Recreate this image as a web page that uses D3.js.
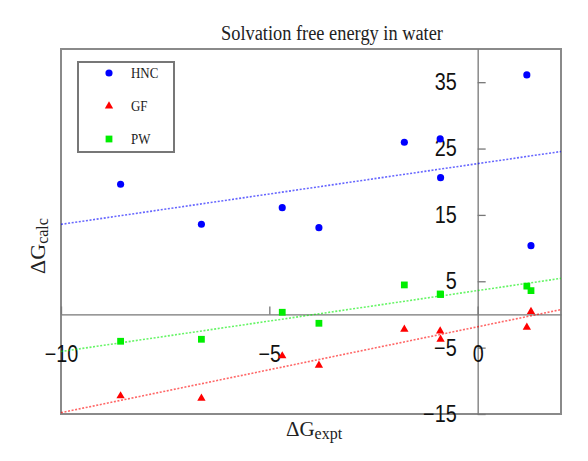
<!DOCTYPE html>
<html>
<head>
<meta charset="utf-8">
<script src="https://cdn.jsdelivr.net/npm/d3@7"></script>
<style>
  html, body { margin: 0; padding: 0; background: #fff; }
  svg { display: block; }
</style>
</head>
<body>
<div id="chart"></div>
<script>
const expt = [-8.57, -6.63, -4.69, -3.81, -1.76, -0.90, -0.89, 1.18, 1.28]
const hnc = [19.62, 13.59, 16.09, 13.08, 25.95, 26.45, 20.61, 36.1, 10.37]
const gf = [-12.28, -12.63, -6.25, -7.66, -2.23, -2.49, -3.74, -1.93, 0.42]
const pw = [-4.04, -3.74, 0.33, -1.33, 4.45, 3.09, 3.0, 4.27, 3.59]

const seriesNames = ['HNC', 'GF', 'PW']
const seriesValues = [hnc, gf, pw]
const seriesColors = ['#0000ff', '#ff0000', '#00ee00']
const seriesShapes = [d3.symbolCircle, d3.symbolTriangle, d3.symbolSquare]
const seriesSizes = [40, 30, 46]

const xTicks = [-10, -5, 0]
const yTicks = [35, 25, 15, 5, -5, -15]

const width = 588, height = 461
const box = { left: 61, right: 561, top: 49, bottom: 414 }

const svg = d3.select('#chart').append('svg')
  .attr('width', width).attr('height', height)

const x = d3.scaleLinear().domain([-10, 2]).range([box.left, box.right])
const y = d3.scaleLinear().domain([-15, 40]).range([box.bottom, box.top])

// squeeze text horizontally, the reference looks a bit narrow
function squeeze(sel, k) {
  sel.each(function () {
    const len = this.getComputedTextLength()
    d3.select(this).attr('textLength', len * k).attr('lengthAdjust', 'spacingAndGlyphs')
  })
}

// least squares fit
function fit(xs, ys) {
  const mx = d3.mean(xs), my = d3.mean(ys)
  const sxy = d3.sum(xs, (v, i) => (v - mx) * (ys[i] - my))
  const sxx = d3.sum(xs, v => (v - mx) * (v - mx))
  const b = sxy / sxx
  return { a: my - b * mx, b }
}

// plot frame
svg.append('rect')
  .attr('x', box.left).attr('y', box.top)
  .attr('width', box.right - box.left).attr('height', box.bottom - box.top)
  .attr('fill', 'none').attr('stroke', '#8a8a8a').attr('stroke-width', 2)

// axes through the origin
const yAxis = d3.axisLeft(y).tickValues(yTicks).tickFormat(d3.format('d'))
  .tickSizeInner(-8).tickSizeOuter(0).tickPadding(21)
const xAxis = d3.axisBottom(x).tickValues(xTicks).tickFormat(d3.format('d'))
  .tickSizeInner(-8).tickSizeOuter(0).tickPadding(31)

const gy = svg.append('g').attr('transform', `translate(${x(0)},0)`).call(yAxis)
const gx = svg.append('g').attr('transform', `translate(0,${y(0)})`).call(xAxis)

;[gx, gy].forEach(g => {
  g.select('.domain').attr('stroke', '#777').attr('stroke-width', 1.3)
  g.selectAll('.tick line').attr('stroke', '#777').attr('stroke-width', 1.3)
  g.selectAll('.tick text')
    .attr('fill', '#111')
    .style('font-family', '"Liberation Sans", Arial, sans-serif')
    .style('font-size', '23px')
  squeeze(g.selectAll('.tick text'), 0.86)
})

// regression lines
seriesValues.forEach((vals, i) => {
  const f = fit(expt, vals)
  const xs = x.domain()
  svg.append('line')
    .attr('x1', x(xs[0])).attr('y1', y(f.a + f.b * xs[0]))
    .attr('x2', x(xs[1])).attr('y2', y(f.a + f.b * xs[1]))
    .attr('stroke', seriesColors[i]).attr('stroke-opacity', 0.6)
    .attr('stroke-width', 1.6).attr('stroke-dasharray', '2,1.6')
})

// points
seriesValues.forEach((vals, i) => {
  const sym = d3.symbol().type(seriesShapes[i]).size(seriesSizes[i])
  svg.append('g').selectAll('path')
    .data(vals)
    .join('path')
    .attr('transform', (d, j) => `translate(${x(expt[j])},${y(d)})`)
    .attr('d', sym)
    .attr('fill', seriesColors[i])
})

// legend
const legend = svg.append('g')
legend.append('rect')
  .attr('x', 78).attr('y', 62).attr('width', 96).attr('height', 90)
  .attr('fill', '#fff').attr('stroke', '#777').attr('stroke-width', 2)
seriesNames.forEach((name, i) => {
  const ly = 73 + i * 33
  legend.append('path')
    .attr('transform', `translate(109,${ly})`)
    .attr('d', d3.symbol().type(seriesShapes[i]).size(seriesSizes[i]))
    .attr('fill', seriesColors[i])
  legend.append('text')
    .attr('x', 131).attr('y', ly)
    .attr('dominant-baseline', 'central')
    .style('font-family', '"Liberation Serif", "Times New Roman", serif')
    .style('font-size', '15px').attr('fill', '#222')
    .text(name)
})
squeeze(legend.selectAll('text'), 0.86)

// title
svg.append('text')
  .attr('x', 332).attr('y', 40)
  .attr('text-anchor', 'middle')
  .style('font-family', '"Liberation Serif", "Times New Roman", serif')
  .style('font-size', '20px').attr('fill', '#222')
  .attr('textLength', 222).attr('lengthAdjust', 'spacingAndGlyphs')
  .text('Solvation free energy in water')

// axis titles
const xt = svg.append('text')
  .attr('x', 314).attr('y', 436)
  .attr('text-anchor', 'middle')
  .style('font-family', '"Liberation Serif", "Times New Roman", serif')
  .style('font-size', '21px').attr('fill', '#222')
xt.append('tspan').text('ΔG')
xt.append('tspan').attr('dy', 3).style('font-size', '16px').text('expt')

const yt = svg.append('text')
  .attr('transform', 'translate(45,246) rotate(-90)')
  .attr('text-anchor', 'middle')
  .style('font-family', '"Liberation Serif", "Times New Roman", serif')
  .style('font-size', '22px').attr('fill', '#222')
yt.append('tspan').text('ΔG')
yt.append('tspan').attr('dy', 3).style('font-size', '16px').text('calc')
</script>
</body>
</html>
